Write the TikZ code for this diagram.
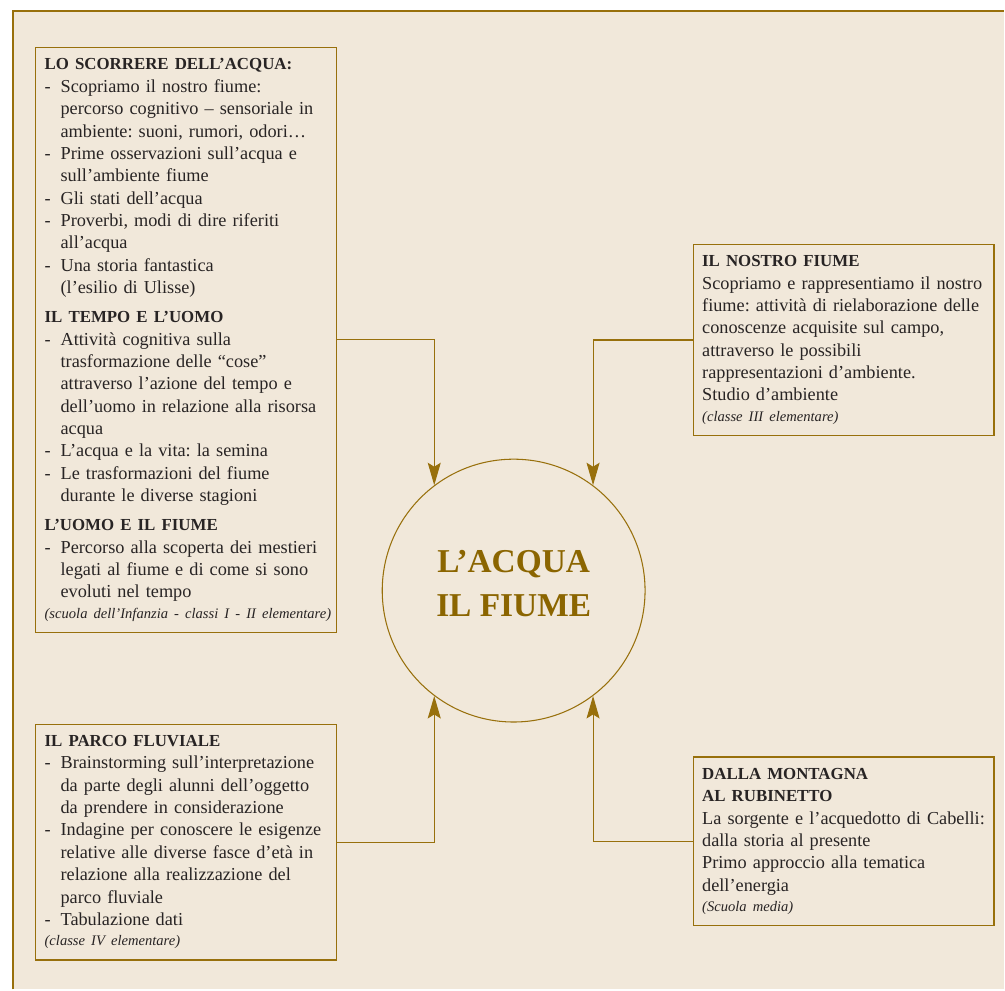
\documentclass[tikz,border=0pt]{standalone}
\usepackage{fontspec}
\setmainfont{Liberation Serif}
\usetikzlibrary{arrows.meta}
\definecolor{carta}{RGB}{241,232,218}
\definecolor{oro}{RGB}{152,112,12}
\definecolor{orotit}{RGB}{139,101,0}
\definecolor{inchiostro}{RGB}{40,36,36}
\newcommand{\dsh}{\makebox[3.2mm][l]{-}}
\newcommand{\ind}{\hspace*{3.2mm}}
\newcommand{\tit}[1]{{\fontsize{9.6}{12.75}\selectfont\bfseries #1}}
\newcommand{\nota}[1]{\mbox{\fontsize{8.3}{12.75}\selectfont\itshape #1}}
\frenchspacing
\tikzset{
  riquadro/.style={draw=oro, line width=0.75pt, anchor=north west, text width=56.6mm,
    inner xsep=1.8mm, inner ysep=2.2mm, align=left, text=inchiostro,
    font=\fontsize{10.4}{12.75}\selectfont},
  centro/.style={draw=oro, line width=0.6pt, circle, minimum size=52.6mm, inner sep=0pt},
  titolo/.style={text=orotit, align=center, font=\fontsize{19}{25}\selectfont\bfseries},
  freccia/.style={draw=oro, line width=0.6pt, -{Stealth[length=4.5mm,width=2.6mm,inset=0.8mm]}}
}
\begin{document}
\begin{tikzpicture}[x=0.2mm,y=-0.2mm]
\fill[white] (0,0) rectangle (1005,990);
\fill[carta] (13,11) rectangle (1005,990);
\draw[oro, line width=0.8pt] (13,990) -- (13,11) -- (1005,11);

\node[riquadro] (scorrere) at (35,47) {\tit{LO SCORRERE DELL'ACQUA:}\\
\dsh Scopriamo il nostro fiume:\\
\ind percorso cognitivo -- sensoriale in\\
\ind ambiente: suoni, rumori, odori\ldots\\
\dsh Prime osservazioni sull'acqua e\\
\ind sull'ambiente fiume\\
\dsh Gli stati dell'acqua\\
\dsh Proverbi, modi di dire riferiti\\
\ind all'acqua\\
\dsh Una storia fantastica\\
\ind (l'esilio di Ulisse)\\[1.3mm]
\tit{IL TEMPO E L'UOMO}\\
\dsh Attività cognitiva sulla\\
\ind trasformazione delle ``cose''\\
\ind attraverso l'azione del tempo e\\
\ind dell'uomo in relazione alla risorsa\\
\ind acqua\\
\dsh L'acqua e la vita: la semina\\
\dsh Le trasformazioni del fiume\\
\ind durante le diverse stagioni\\[1.3mm]
\tit{L'UOMO E IL FIUME}\\
\dsh Percorso alla scoperta dei mestieri\\
\ind legati al fiume e di come si sono\\
\ind evoluti nel tempo\\[-0.4mm]
\nota{(scuola dell'Infanzia - classi I - II elementare)}};

\node[riquadro] (fiume) at (693,244) {\tit{IL NOSTRO FIUME}\\
Scopriamo e rappresentiamo il nostro\\
fiume: attività di rielaborazione delle\\
conoscenze acquisite sul campo,\\
attraverso le possibili\\
rappresentazioni d'ambiente.\\
Studio d'ambiente\\[-0.4mm]
\nota{(classe III elementare)}};

\node[riquadro] (parco) at (35,724) {\tit{IL PARCO FLUVIALE}\\
\dsh Brainstorming sull'interpretazione\\
\ind da parte degli alunni dell'oggetto\\
\ind da prendere in considerazione\\
\dsh Indagine per conoscere le esigenze\\
\ind relative alle diverse fasce d'età in\\
\ind relazione alla realizzazione del\\
\ind parco fluviale\\
\dsh Tabulazione dati\\[-0.4mm]
\nota{(classe IV elementare)}};

\node[riquadro] (montagna) at (693,757) {\tit{DALLA MONTAGNA}\\
\tit{AL RUBINETTO}\\
La sorgente e l'acquedotto di Cabelli:\\
dalla storia al presente\\
Primo approccio alla tematica\\
dell'energia\\[-0.4mm]
\nota{(Scuola media)}};

\node[centro] (acqua) at (514,591) {};
\node[titolo] (acquatesto) at (514,584) {L'ACQUA\\IL FIUME};

\draw[freccia] (scorrere.east) -| (acqua.127);
\draw[freccia] (fiume.west) -| (acqua.53);
\draw[freccia] (parco.east) -| (acqua.233);
\draw[freccia] (montagna.west) -| (acqua.307);
\end{tikzpicture}
\end{document}
